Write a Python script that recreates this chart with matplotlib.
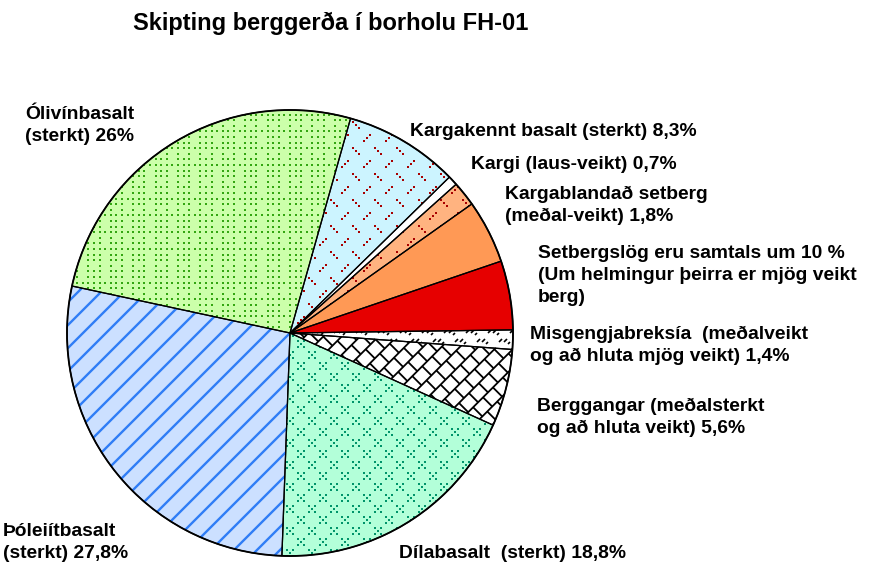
import numpy as np
import matplotlib
matplotlib.use("Agg")
import matplotlib.pyplot as plt
from matplotlib.patches import Wedge, Circle
from matplotlib.collections import LineCollection

plt.rcParams['font.family'] = ['Liberation Sans', 'DejaVu Sans']

# ---- data -------------------------------------------------------------
title = "Skipting berggerða í borholu FH-01"

rock_types = ["Setbergslög (mjög veikt)", "Setbergslög", "Kargablandað setberg",
              "Kargi", "Kargakennt basalt", "Ólivínbasalt", "Þóleiítbasalt",
              "Dílabasalt", "Berggangar", "Misgengjabreksía"]
shares = [5.0, 4.6, 1.8, 0.7, 8.3, 26.0, 27.8, 18.8, 5.6, 1.4]
face_colors = ["#e60000", "#ff9955", "#ffb380", "#ffffff", "#ccf4ff",
               "#ccffaa", "#cce0ff", "#b3ffd9", "#ffffff", "#ffffff"]


def pct(v):
    s = f"{v:.1f}".replace(".", ",")
    if s.endswith(",0"):
        s = s[:-2]
    return s + "%"


sediment_total = "10 %"

label_lines = {
    "Ólivínbasalt": ["Ólivínbasalt", f"(sterkt) {pct(shares[5])}"],
    "Kargakennt basalt": [f"Kargakennt basalt (sterkt) {pct(shares[4])}"],
    "Kargi": [f"Kargi (laus-veikt) {pct(shares[3])}"],
    "Kargablandað setberg": ["Kargablandað setberg", f"(meðal-veikt) {pct(shares[2])}"],
    "Setbergslög": [f"Setbergslög eru samtals um {sediment_total}",
                    "(Um helmingur þeirra er mjög veikt", "berg)"],
    "Misgengjabreksía": ["Misgengjabreksía  (meðalveikt",
                         f"og að hluta mjög veikt) {pct(shares[9])}"],
    "Berggangar": ["Berggangar (meðalsterkt", f"og að hluta veikt) {pct(shares[8])}"],
    "Dílabasalt": [f"Dílabasalt  (sterkt) {pct(shares[7])}"],
    "Þóleiítbasalt": ["Þóleiítbasalt", f"(sterkt) {pct(shares[6])}"],
}

# label anchor: left x and first baseline (pixels from top-left)
label_pos = {
    "Ólivínbasalt": (25, 119),
    "Kargakennt basalt": (410, 136),
    "Kargi": (471, 169),
    "Kargablandað setberg": (505, 199),
    "Setbergslög": (538, 258),
    "Misgengjabreksía": (530, 339),
    "Berggangar": (537, 411),
    "Dílabasalt": (399, 558),
    "Þóleiítbasalt": (3, 536),
}
LINE_STEP = 22
FS = 13.9

# ---- figure -------------------------------------------------------------
W, H = 890, 575
fig = plt.figure(figsize=(W / 100, H / 100), dpi=100)
fig.patch.set_facecolor("white")

cx, cy, R = 290, 333, 223
LIM = 1.03
half = R * LIM
ax = fig.add_axes([(cx - half) / W, (H - cy - half) / H, 2 * half / W, 2 * half / H])

wedges, _ = ax.pie(shares, colors=face_colors, startangle=0.8, counterclock=True,
                   radius=1.0, wedgeprops=dict(edgecolor="none", linewidth=0))
ax.set_xlim(-LIM, LIM)
ax.set_ylim(-LIM, LIM)
ax.set_aspect("equal")
ax.axis("off")

px = 1.0 / R  # data units per pixel
pt_per_px = 72 / 100


def square_size(side_px):
    return (side_px * pt_per_px) ** 2


def lattice(dx, dy, stagger=0.0):
    xs, ys, rows = [], [], []
    ny = int(2.2 / (dy * px)) + 2
    nx = int(2.2 / (dx * px)) + 2
    for r in range(-ny // 2, ny // 2 + 1):
        off = (r % 2) * stagger
        for c in range(-nx // 2, nx // 2 + 1):
            xs.append((c * dx + off) * px)
            ys.append(r * dy * px)
            rows.append(r)
    return np.array(xs), np.array(ys), np.array(rows)


def add_points(x, y, color, side, wedge):
    sc = ax.scatter(x, y, marker="s", s=square_size(side), c=color,
                    linewidths=0, zorder=2)
    sc.set_clip_path(wedge)


def add_segments(segs, color, lw, wedge):
    lc = LineCollection(segs, colors=color, linewidths=lw, zorder=2)
    ax.add_collection(lc)
    lc.set_clip_path(wedge)


# Ólivínbasalt: green dot field
w = wedges[5]
gx, gy = [], []
step = 5.6
for i in range(-45, 46):
    for j in range(-45, 46):
        if (i % 4 == 3 and j % 3 != 0) or (j % 5 == 2 and i % 2 == 1):
            continue
        gx.append(i * step * px)
        gy.append(j * step * px)
add_points(np.array(gx), np.array(gy), "#33a611", 2.5, w)

# Kargakennt basalt and Kargablandað setberg: short red dashes
for idx in (4, 2):
    w = wedges[idx]
    xs, ys, rows = lattice(22, 13, stagger=11)
    dxs, dys = [], []
    for x0, y0, r in zip(xs, ys, rows):
        sgn = -1 if r % 2 == 0 else 1
        for t in (-1, 0, 1):
            dxs.append(x0 + t * 2.9 * px)
            dys.append(y0 + sgn * t * 2.9 * px)
    add_points(np.array(dxs), np.array(dys), "#a80000", 2.5, w)

# Dílabasalt: teal five-dot clusters
w = wedges[7]
xs, ys, _ = lattice(22, 11, stagger=11)
cxs, cys = [], []
for ox, oy in ((0, 0), (-2.6, -2.6), (2.6, -2.6), (-2.6, 2.6), (2.6, 2.6)):
    cxs.append(xs + ox * px)
    cys.append(ys + oy * px)
add_points(np.concatenate(cxs), np.concatenate(cys), "#00936a", 2.5, w)

# Þóleiítbasalt: blue diagonal stripes
w = wedges[6]
gap = 23 * px
segs = []
for k in range(-12, 13):
    b = k * gap
    segs.append([(-1.5, -1.5 + b), (1.5, 1.5 + b)])
add_segments(segs, "#2f7df6", 1.7, w)

# Berggangar: black diagonal brick lattice
w = wedges[8]
eu = np.array([1.0, 1.0]) / np.sqrt(2)
ev = np.array([-1.0, 1.0]) / np.sqrt(2)
g = 13 * px
p = 14 * px
segs = []
for k in range(-25, 26):
    a = -1.6 * eu + k * g * ev
    b = 1.6 * eu + k * g * ev
    segs.append([tuple(a), tuple(b)])
    for m in range(-25, 26):
        u = m * p + (k % 2) * p / 2
        s0 = u * eu + k * g * ev
        s1 = u * eu + (k + 1) * g * ev
        segs.append([tuple(s0), tuple(s1)])
add_segments(segs, "black", 1.3, w)

# Misgengjabreksía: small black tick pairs
w = wedges[9]
xs, ys, _ = lattice(22, 9, stagger=11)
segs = []
for x0, y0 in zip(xs, ys):
    for ox in (0, 5):
        segs.append([(x0 + ox * px, y0), (x0 + (ox + 3) * px, y0 + 3 * px)])
    segs.append([(x0 + 9 * px, y0 - 2 * px), (x0 + 11 * px, y0)])
add_segments(segs, "black", 1.2, w)

# wedge outlines and rim
for wd in wedges:
    ax.add_patch(Wedge((0, 0), 1.0, wd.theta1, wd.theta2, fill=False,
                       edgecolor="black", linewidth=0.9, zorder=4))
ax.add_patch(Circle((0, 0), 1.0, fill=False, edgecolor="black", linewidth=1.3, zorder=5))

# ---- text ---------------------------------------------------------------
fig.text(133 / W, 1 - 30 / H, title, fontsize=17, fontweight="bold",
         ha="left", va="baseline")

for key, lines in label_lines.items():
    x0, y0 = label_pos[key]
    for i, line in enumerate(lines):
        fig.text(x0 / W, 1 - (y0 + i * LINE_STEP) / H, line, fontsize=FS,
                 fontweight="bold", ha="left", va="baseline")

fig.savefig("out.png", dpi=100, facecolor="white")
